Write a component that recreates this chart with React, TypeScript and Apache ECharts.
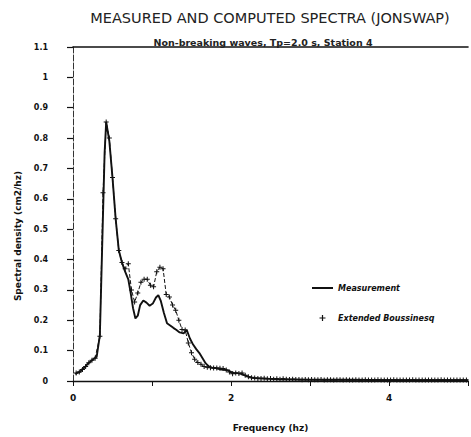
import React, { useEffect, useRef } from "react";
import * as echarts from "echarts";

// Measured spectrum (solid line): frequency in Hz, density in cm2/Hz
const measuredFreq = [
  0.03, 0.06, 0.09, 0.12, 0.15, 0.18, 0.21, 0.24, 0.27, 0.3, 0.34, 0.37, 0.4, 0.42,
  0.46, 0.5, 0.54, 0.58, 0.62, 0.66, 0.7, 0.73, 0.76, 0.79, 0.82, 0.85, 0.89, 0.93,
  0.97, 1.01, 1.05, 1.08, 1.11, 1.15, 1.19, 1.23, 1.27, 1.31, 1.35, 1.4, 1.44, 1.48,
  1.52, 1.56, 1.6, 1.64, 1.68, 1.72, 1.76, 1.8, 1.84, 1.88, 1.92, 1.96, 2.0, 2.04,
  2.08, 2.12, 2.16, 2.2, 2.25, 2.3, 2.4, 2.5, 2.6, 2.8, 3.0, 3.5, 4.0, 4.5, 5.0,
];
const measuredValue = [
  0.022, 0.028, 0.03, 0.04, 0.045, 0.055, 0.062, 0.068, 0.074, 0.08, 0.15, 0.45, 0.75, 0.853,
  0.79, 0.67, 0.534, 0.43, 0.39, 0.36, 0.335, 0.29, 0.24, 0.206, 0.215, 0.25, 0.265, 0.258,
  0.248, 0.255, 0.275, 0.283, 0.265, 0.225, 0.19, 0.183, 0.175, 0.168, 0.16, 0.157, 0.168, 0.14,
  0.12, 0.105, 0.092, 0.075, 0.058, 0.048, 0.044, 0.043, 0.04, 0.038, 0.037, 0.035, 0.03, 0.026,
  0.026, 0.024, 0.02, 0.016, 0.012, 0.01, 0.008, 0.007, 0.006, 0.005, 0.004, 0.004, 0.003, 0.003, 0.003,
];

// Extended Boussinesq model (+ markers on a dashed line)
const computedFreq = [
  0.04, 0.08, 0.12, 0.16, 0.2, 0.24, 0.28, 0.34, 0.38, 0.42, 0.46, 0.5, 0.54, 0.58,
  0.62, 0.66, 0.7, 0.74, 0.78, 0.82, 0.86, 0.9, 0.94, 0.98, 1.02, 1.06, 1.1, 1.14,
  1.18, 1.22, 1.26, 1.3, 1.34, 1.38, 1.42, 1.46, 1.5, 1.54, 1.58, 1.62, 1.66, 1.7,
  1.74, 1.78, 1.82, 1.86, 1.9, 1.94, 1.98, 2.02, 2.06, 2.1, 2.14, 2.18, 2.22, 2.26,
  2.3, 2.34, 2.38, 2.42, 2.46, 2.5, 2.54, 2.58, 2.62, 2.66, 2.7, 2.74, 2.78, 2.82,
  2.86, 2.9, 2.94, 2.98, 3.02, 3.06, 3.1, 3.14, 3.18, 3.22, 3.26, 3.3, 3.34, 3.38,
  3.42, 3.46, 3.5, 3.54, 3.58, 3.62, 3.66, 3.7, 3.74, 3.78, 3.82, 3.86, 3.9, 3.94,
  3.98, 4.02, 4.06, 4.1, 4.14, 4.18, 4.22, 4.26, 4.3, 4.34, 4.38, 4.42, 4.46, 4.5,
  4.54, 4.58, 4.62, 4.66, 4.7, 4.74, 4.78, 4.82, 4.86, 4.9, 4.94, 4.98,
];
const computedValue = [
  0.026, 0.03, 0.038, 0.048, 0.06, 0.068, 0.075, 0.147, 0.62, 0.853, 0.8, 0.67, 0.534, 0.43,
  0.39, 0.37, 0.386, 0.3, 0.26, 0.29, 0.325, 0.335, 0.335, 0.315, 0.31, 0.36, 0.375, 0.37,
  0.285, 0.277, 0.25, 0.233, 0.2, 0.17, 0.168, 0.125, 0.093, 0.072, 0.061, 0.055, 0.048, 0.045,
  0.044, 0.043, 0.043, 0.042, 0.041, 0.036, 0.03, 0.024, 0.026, 0.025, 0.026, 0.019, 0.014, 0.011,
  0.01, 0.008, 0.008, 0.009, 0.007, 0.008, 0.006, 0.007, 0.006, 0.007, 0.006, 0.005, 0.006, 0.005,
  0.005, 0.004, 0.005, 0.004, 0.005, 0.004, 0.004, 0.005, 0.003, 0.004, 0.004, 0.003, 0.004, 0.004,
  0.003, 0.004, 0.003, 0.003, 0.004, 0.003, 0.003, 0.004, 0.003, 0.003, 0.003, 0.004, 0.003, 0.003,
  0.003, 0.003, 0.004, 0.003, 0.003, 0.003, 0.003, 0.003, 0.004, 0.003, 0.003, 0.003, 0.003, 0.003,
  0.003, 0.003, 0.003, 0.004, 0.003, 0.003, 0.003, 0.003, 0.003, 0.003, 0.003, 0.003,
];

const yTicks = [0, 0.1, 0.2, 0.3, 0.4, 0.5, 0.6, 0.7, 0.8, 0.9, 1, 1.1];
const xLabelled = [0, 2, 4];

const FONT = "DejaVu Sans";
const INK = "#111";
const PLUS = "path://M2,0H3V2H5V3H3V5H2V3H0V2H2Z";
const BAR = "path://M0,0H21V2H0Z";

export default function App() {
  const ref = useRef<HTMLDivElement>(null);

  useEffect(() => {
    document.body.style.margin = "0";
    if (!ref.current) return;
    const chart = echarts.init(ref.current, undefined, { renderer: "svg" });

    const measured = measuredFreq.map((f, i) => [f, measuredValue[i]]);
    const computed = computedFreq.map((f, i) => [f, computedValue[i]]);

    chart.setOption({
      animation: false,
      backgroundColor: "#fff",
      title: [
        {
          text: "MEASURED AND COMPUTED SPECTRA (JONSWAP)",
          left: 265,
          top: 5,
          textAlign: "center",
          textStyle: { fontFamily: FONT, fontSize: 14.5, fontWeight: "normal", color: "#222" },
        },
        {
          text: "Non-breaking waves, Tp=2.0 s, Station 4",
          left: 258,
          top: 32,
          textAlign: "center",
          textStyle: { fontFamily: FONT, fontSize: 9.5, fontWeight: "bold", color: "#222" },
        },
      ],
      grid: { left: 73, right: -7, top: 47, bottom: 54, containLabel: false },
      legend: {
        orient: "vertical",
        left: 307,
        top: 279,
        itemWidth: 21,
        itemHeight: 6,
        itemGap: 22,
        textStyle: { fontFamily: FONT, fontSize: 8, fontWeight: "bold", fontStyle: "italic", color: INK },
        data: [
          { name: "Measurement", icon: BAR },
          { name: "Extended Boussinesq", icon: PLUS },
        ],
      },
      xAxis: [
        {
          type: "value",
          min: 0,
          max: 5,
          interval: 1,
          name: "Frequency (hz)",
          nameLocation: "middle",
          nameGap: 42,
          nameTextStyle: { fontFamily: FONT, fontSize: 9, fontWeight: "bold", color: INK },
          axisLine: { lineStyle: { color: INK, width: 1.4 } },
          axisTick: { length: 5, lineStyle: { color: INK } },
          axisLabel: {
            margin: 12,
            fontFamily: FONT,
            fontSize: 9,
            fontWeight: "bold",
            color: INK,
            formatter: (v: number) => (xLabelled.includes(v) ? String(v) : ""),
          },
          splitLine: { show: false },
        },
        {
          type: "value",
          position: "top",
          min: 0,
          max: 5,
          axisLine: { show: true, lineStyle: { color: INK, width: 1.6 } },
          axisTick: { show: false },
          axisLabel: { show: false },
          splitLine: { show: false },
        },
      ],
      yAxis: {
        type: "value",
        min: 0,
        max: 1.1,
        interval: 0.1,
        axisLine: { show: true, lineStyle: { color: "#333", width: 1, type: [6, 2] } },
        axisTick: { show: true, length: 6, lineStyle: { color: INK, width: 1.2 } },
        axisLabel: {
          margin: 25,
          fontFamily: FONT,
          fontSize: 8,
          fontWeight: "bold",
          color: INK,
          formatter: (v: number) => {
            const t = yTicks.find((y) => Math.abs(y - v) < 1e-6);
            return t === undefined ? "" : String(t);
          },
        },
        splitLine: { show: false },
      },
      graphic: [
        {
          type: "text",
          x: 18,
          y: 236,
          rotation: Math.PI / 2,
          style: {
            text: "Spectral density (cm2/hz)",
            fontFamily: FONT,
            fontSize: 9,
            fontWeight: "bold",
            fill: INK,
            align: "center",
            verticalAlign: "middle",
          },
        },
      ],
      series: [
        {
          name: "Measurement",
          type: "line",
          data: measured,
          symbol: "none",
          lineStyle: { color: INK, width: 1.9 },
          itemStyle: { color: INK },
          z: 3,
        },
        {
          name: "Extended Boussinesq",
          type: "line",
          data: computed,
          symbol: PLUS,
          symbolSize: 5,
          showAllSymbol: true,
          lineStyle: { color: INK, width: 1, type: [4, 2] },
          itemStyle: { color: INK },
          z: 2,
        },
      ],
    });

    return () => chart.dispose();
  }, []);

  return <div ref={ref} style={{ width: 471, height: 437 }} />;
}
